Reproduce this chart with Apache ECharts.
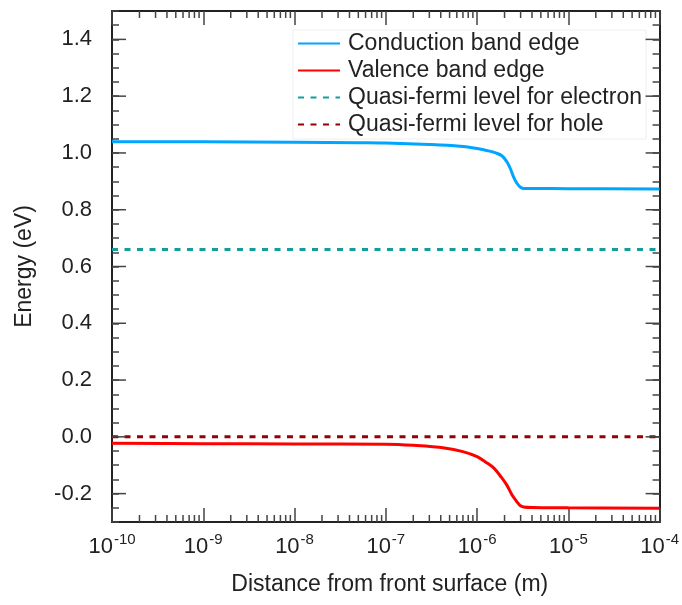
<!DOCTYPE html>
<html>
<head>
<meta charset="utf-8">
<script src="https://cdn.jsdelivr.net/npm/echarts@6/dist/echarts.min.js"></script>
<style>
  html, body { margin: 0; padding: 0; background: #ffffff; }
  #chart { width: 682px; height: 605px; }
</style>
</head>
<body>
<div id="chart"></div>
<script>
// Band diagram: energy vs. distance from the front surface (log scale)
const conductionDistance = [1e-10, 1e-9, 1e-8, 5e-8, 1e-7, 3e-7, 6.5e-7, 1e-6, 1.3e-6, 1.6e-6, 1.87e-6, 2.12e-6, 2.3e-6, 2.51e-6, 2.72e-6, 2.96e-6, 3.22e-6, 4e-6, 1e-5, 1e-4];
const conductionEnergy   = [1.039, 1.039, 1.038, 1.036, 1.035, 1.030, 1.024, 1.016, 1.008, 1.000, 0.990, 0.969, 0.947, 0.916, 0.894, 0.880, 0.875, 0.875, 0.874, 0.873];

const valenceDistance = [1e-10, 1e-9, 1e-8, 1e-7, 2e-7, 4.4e-7, 7e-7, 1e-6, 1.3e-6, 1.53e-6, 1.8e-6, 2.12e-6, 2.4e-6, 2.72e-6, 2.96e-6, 3.24e-6, 4e-6, 1e-5, 1e-4];
const valenceEnergy   = [-0.023, -0.024, -0.025, -0.026, -0.030, -0.039, -0.052, -0.070, -0.093, -0.110, -0.138, -0.170, -0.203, -0.228, -0.242, -0.247, -0.249, -0.250, -0.252];

const fermiDistance = [1e-10, 1e-4];
const electronFermiEnergy = [0.66, 0.66];
const holeFermiEnergy = [0.0, 0.0];

const seriesNames = ['Conduction band edge', 'Valence band edge', 'Quasi-fermi level for electron', 'Quasi-fermi level for hole'];
const yMajorTicks = [-0.2, 0.0, 0.2, 0.4, 0.6, 0.8, 1.0, 1.2, 1.4];
const xDecades = [-10, -9, -8, -7, -6, -5, -4];

const FONT = '"Liberation Sans", Arial, sans-serif';
const zip = (xs, ys) => xs.map((x, i) => [x, ys[i]]);

const chart = echarts.init(document.getElementById('chart'), null, { renderer: 'canvas' });

const frameLine = { show: true, onZero: false, lineStyle: { color: '#222', width: 2 } };
const majorTick = { show: true, inside: true, length: 14, lineStyle: { color: '#444', width: 1.5 } };
const minorTickStyle = { show: true, inside: true, length: 7, lineStyle: { color: '#444', width: 1.5 } };

const isMajorY = v => Math.abs(v / 0.2 - Math.round(v / 0.2)) < 1e-6;

const xBase = {
  type: 'log', logBase: 10, min: 1e-10, max: 1e-4, interval: 1,
  axisLine: frameLine, axisTick: majorTick, splitLine: { show: false }
};
const yBase = {
  type: 'value', min: -0.3, max: 1.5, interval: 0.05,
  axisLine: frameLine, axisTick: minorTickStyle, splitLine: { show: false }
};

chart.setOption({
  animation: false,
  backgroundColor: '#ffffff',
  grid: { left: 112, right: 18, top: 11, bottom: 83 },
  legend: {
    data: seriesNames,
    orient: 'vertical',
    left: 293, top: 30,
    padding: [2, 4, 3, 4],
    borderColor: '#eeeeee', borderWidth: 1,
    itemWidth: 42, itemHeight: 14, itemGap: 4,
    itemStyle: { opacity: 0 },
    textStyle: { fontFamily: FONT, fontSize: 23, color: '#222', lineHeight: 22, padding: [0, 0, 0, 3] }
  },
  xAxis: [
    Object.assign({}, xBase, {
      position: 'bottom',
      name: 'Distance from front surface (m)', nameLocation: 'middle', nameGap: 51,
      nameTextStyle: { fontFamily: FONT, fontSize: 23, color: '#222', padding: [0, 0, 0, 8] },
      axisLabel: {
        margin: 10,
        formatter: v => '{b|10}{s|' + Math.round(Math.log10(v)) + '}',
        rich: {
          b: { fontFamily: FONT, fontSize: 22, color: '#222', lineHeight: 26, verticalAlign: 'bottom' },
          s: { fontFamily: FONT, fontSize: 15, color: '#222', lineHeight: 26, verticalAlign: 'top', padding: [0, 0, 0, 1] }
        }
      }
    }),
    Object.assign({}, xBase, { position: 'top', axisLabel: { show: false } })
  ],
  yAxis: [
    Object.assign({}, yBase, {
      position: 'left',
      name: 'Energy (eV)', nameLocation: 'middle', nameGap: 76,
      nameTextStyle: { fontFamily: FONT, fontSize: 23, color: '#222' },
      axisLabel: {
        margin: 20, fontFamily: FONT, fontSize: 22, color: '#222',
        formatter: v => isMajorY(v) ? v.toFixed(1) : ''
      }
    }),
    Object.assign({}, yBase, { position: 'right', axisLabel: { show: false } })
  ],
  series: [
    {
      name: seriesNames[0], type: 'line', symbol: 'none', smooth: 0.35,
      data: zip(conductionDistance, conductionEnergy),
      lineStyle: { color: '#00a5ff', width: 3 }, itemStyle: { color: '#00a5ff' }, z: 3
    },
    {
      name: seriesNames[1], type: 'line', symbol: 'none', smooth: 0.35,
      data: zip(valenceDistance, valenceEnergy),
      lineStyle: { color: '#ff0000', width: 3 }, itemStyle: { color: '#ff0000' }, z: 3
    },
    {
      name: seriesNames[2], type: 'line', symbol: 'none',
      data: zip(fermiDistance, electronFermiEnergy),
      lineStyle: { color: '#139e9e', width: 3, type: [6, 6.5] }, itemStyle: { color: '#139e9e' }, z: 2
    },
    {
      name: seriesNames[3], type: 'line', symbol: 'none',
      data: zip(fermiDistance, holeFermiEnergy),
      lineStyle: { color: '#950000', width: 3, type: [6, 6.5] }, itemStyle: { color: '#950000' }, z: 2
    }
  ]
});

// Extra ticks placed through the axes' own scales:
// long ticks at the labelled energies and 2..9 minor ticks on the log axis.
const tickStyle = { stroke: '#444', lineWidth: 1.5 };
const graphics = [];
const yBottom = chart.convertToPixel({ gridIndex: 0 }, [1e-10, -0.3])[1];
const yTop = chart.convertToPixel({ gridIndex: 0 }, [1e-10, 1.5])[1];
const xLeft = chart.convertToPixel({ gridIndex: 0 }, [1e-10, 0])[0];
const xRight = chart.convertToPixel({ gridIndex: 0 }, [1e-4, 0])[0];

yMajorTicks.forEach(v => {
  const py = chart.convertToPixel({ gridIndex: 0 }, [1e-10, v])[1];
  graphics.push({ type: 'line', shape: { x1: xLeft, y1: py, x2: xLeft + 14, y2: py }, style: tickStyle, z: 10 });
  graphics.push({ type: 'line', shape: { x1: xRight, y1: py, x2: xRight - 14, y2: py }, style: tickStyle, z: 10 });
});

xDecades.slice(0, -1).forEach(e => {
  for (let m = 2; m <= 9; m++) {
    const px = chart.convertToPixel({ gridIndex: 0 }, [m * Math.pow(10, e), 0])[0];
    graphics.push({ type: 'line', shape: { x1: px, y1: yBottom, x2: px, y2: yBottom - 7 }, style: tickStyle, z: 10 });
    graphics.push({ type: 'line', shape: { x1: px, y1: yTop, x2: px, y2: yTop + 7 }, style: tickStyle, z: 10 });
  }
});

chart.setOption({ graphic: graphics });
</script>
</body>
</html>
